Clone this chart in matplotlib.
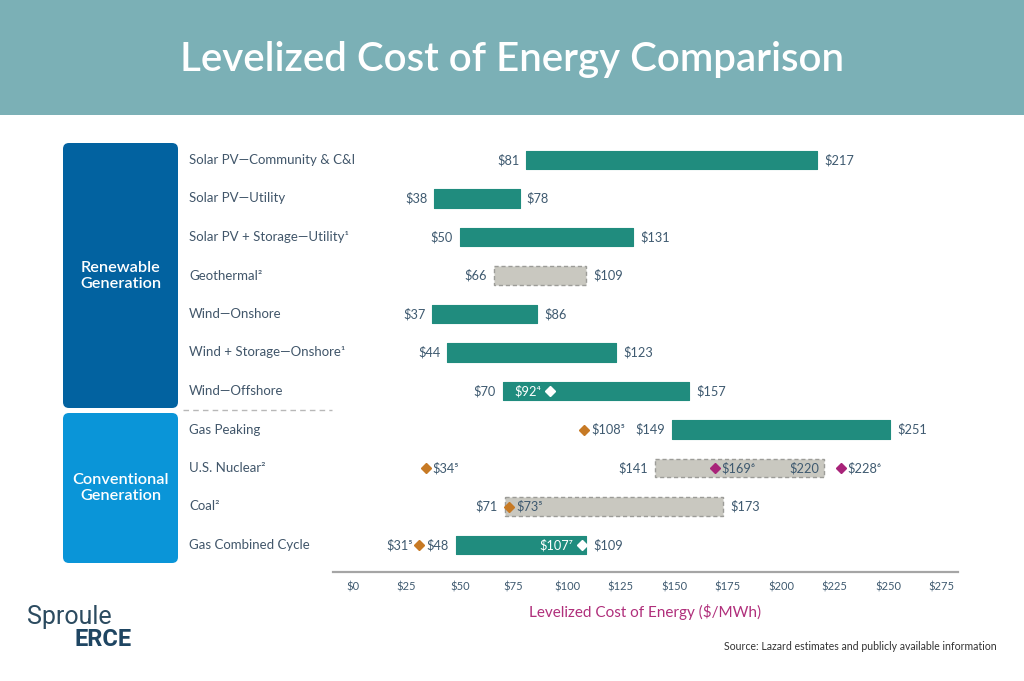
import matplotlib
matplotlib.use("Agg")
import matplotlib.pyplot as plt
from matplotlib.patches import Rectangle, FancyBboxPatch

plt.rcParams['font.family'] = ['Lato', 'DejaVu Sans']

# ---------------- data ----------------
categories = ["Solar PV\u2014Community & C&I", "Solar PV\u2014Utility",
              "Solar PV + Storage\u2014Utility\u00b9", "Geothermal\u00b2",
              "Wind\u2014Onshore", "Wind + Storage\u2014Onshore\u00b9", "Wind\u2014Offshore",
              "Gas Peaking", "U.S. Nuclear\u00b2", "Coal\u00b2", "Gas Combined Cycle"]
low_values = [81, 38, 50, 66, 37, 44, 70, 149, 141, 71, 48]
high_values = [217, 78, 131, 109, 86, 123, 157, 251, 220, 173, 109]
bar_kind = ["solid", "solid", "solid", "dashed", "solid", "solid", "solid",
            "solid", "dashed", "dashed", "solid"]
groups = ["Renewable\nGeneration", "Conventional\nGeneration"]

# diamond markers: (row index, value, kind, superscript)
marker_rows = [6, 7, 8, 8, 8, 9, 10, 10]
marker_values = [92, 108, 34, 169, 228, 73, 31, 107]
marker_kind = ["white", "orange", "orange", "magenta", "magenta", "orange", "orange", "white"]
marker_notes = ["\u2074", "\u2075", "\u2075", "\u2076", "\u2076", "\u2075", "\u2075", "\u2077"]

xticks = [0, 25, 50, 75, 100, 125, 150, 175, 200, 225, 250, 275]

# ---------------- style ----------------
W, H = 1024, 681
TEAL = "#208C7E"
GRAY_FILL = "#C9C8C0"
GRAY_EDGE = "#9C9C98"
TXT = "#3F5A70"
MK_COLORS = {"white": "white", "orange": "#C77A25", "magenta": "#A82379"}
LBL = 9.2

fig = plt.figure(figsize=(W / 100, H / 100), dpi=100)
fig.patch.set_facecolor("white")

# overlay axes in pixel coordinates for decorations
deco = fig.add_axes([0, 0, 1, 1], zorder=0)
deco.set_xlim(0, W)
deco.set_ylim(H, 0)
deco.axis("off")

# header band
deco.add_patch(Rectangle((0, 0), W, 115, facecolor="#7BB0B6", edgecolor="none"))
deco.text(512, 59, "Levelized Cost of Energy Comparison", color="white",
          fontsize=29, ha="center", va="center", fontweight="semibold")

# group boxes
deco.add_patch(FancyBboxPatch((63, 143), 115, 265, boxstyle="round,pad=0,rounding_size=6",
                              facecolor="#0262A0", edgecolor="none"))
deco.add_patch(FancyBboxPatch((63, 413), 115, 150, boxstyle="round,pad=0,rounding_size=6",
                              facecolor="#0A95D8", edgecolor="none"))
deco.text(120.5, 276, groups[0], color="white", fontsize=11.7, ha="center", va="center",
          fontweight="semibold", linespacing=1.15)
deco.text(120.5, 488, groups[1], color="white", fontsize=11.7, ha="center", va="center",
          fontweight="semibold", linespacing=1.15)

# separator
deco.plot([183, 332], [410, 410], color="#B8B8B8", lw=1, ls=(0, (4, 3)))

# logo and source
deco.text(27, 617, "Sproule", color="#2C4B60", fontsize=18, ha="left", va="center",
          family=["Liberation Sans Narrow", "Roboto", "DejaVu Sans"])
deco.text(74, 640, "ERCE", color="#1E4562", fontsize=17, ha="left", va="center",
          fontweight="bold", family=["Liberation Sans Narrow", "Roboto", "DejaVu Sans"])
deco.text(997, 646, "Source: Lazard estimates and publicly available information",
          color="#333333", fontsize=7.6, ha="right", va="center")

# ---------------- chart axes ----------------
px_per = 2.14
x0_px = 353
ax_left, ax_right, ax_top, ax_bottom = 333, 958, 143, 572
row0, row_step = 160, 38.5
ax = fig.add_axes([ax_left / W, 1 - ax_bottom / H, (ax_right - ax_left) / W,
                   (ax_bottom - ax_top) / H], zorder=1)
ax.patch.set_alpha(0)
ax.set_xlim((ax_left - x0_px) / px_per, (ax_right - x0_px) / px_per)
ax.set_ylim((ax_bottom - row0) / row_step, (ax_top - row0) / row_step)
for s in ["top", "left", "right"]:
    ax.spines[s].set_visible(False)
ax.spines["bottom"].set_color("#A5A5A5")
ax.spines["bottom"].set_linewidth(1.6)
ax.set_yticks([])
ax.set_xticks(xticks)
ax.set_xticklabels([f"${t}" for t in xticks])
ax.tick_params(axis="x", length=0, pad=7, labelsize=8, labelcolor=TXT)
ax.set_xlabel("Levelized Cost of Energy ($/MWh)", color="#B02F7B", fontsize=11, labelpad=8)

bh = 0.49
for i, (cat, lo, hi, kind) in enumerate(zip(categories, low_values, high_values, bar_kind)):
    if kind == "solid":
        ax.add_patch(Rectangle((lo, i - bh / 2), hi - lo, bh, facecolor=TEAL,
                               edgecolor=TEAL, lw=0.8, joinstyle="round", zorder=2))
    else:
        ax.add_patch(Rectangle((lo, i - bh / 2), hi - lo, bh, facecolor=GRAY_FILL,
                               edgecolor=GRAY_EDGE, lw=1, ls=(0, (3, 2)), zorder=2))
    ax.annotate(f"${lo}", (lo, i), xytext=(-5, 0), textcoords="offset points",
                ha="right", va="center", fontsize=LBL, color=TXT, zorder=4)
    if cat.startswith("U.S. Nuclear"):
        ax.annotate(f"${hi}", (hi, i), xytext=(-3, 0), textcoords="offset points",
                    ha="right", va="center", fontsize=LBL, color=TXT, zorder=4)
    else:
        ax.annotate(f"${hi}", (hi, i), xytext=(5, 0), textcoords="offset points",
                    ha="left", va="center", fontsize=LBL, color=TXT, zorder=4)
    # category label
    ax.text(189, row0 + i * row_step, cat, transform=deco.transData,
            ha="left", va="center", fontsize=9.5, color="#41566A")

for r, v, k, n in zip(marker_rows, marker_values, marker_kind, marker_notes):
    ax.plot(v, r, marker="D", ms=5.5, color=MK_COLORS[k], mec=MK_COLORS[k], zorder=5)
    if k == "white":
        ax.annotate(f"${v}{n}", (v, r), xytext=(-6, 0), textcoords="offset points",
                    ha="right", va="center", fontsize=LBL, color="white", zorder=5)
    elif r == 10:
        ax.annotate(f"${v}{n}", (v, r), xytext=(-5, 0), textcoords="offset points",
                    ha="right", va="center", fontsize=LBL, color=TXT, zorder=5)
    else:
        ax.annotate(f"${v}{n}", (v, r), xytext=(5, 0), textcoords="offset points",
                    ha="left", va="center", fontsize=LBL, color=TXT, zorder=5)

fig.savefig("out.png", dpi=100, facecolor="white")
